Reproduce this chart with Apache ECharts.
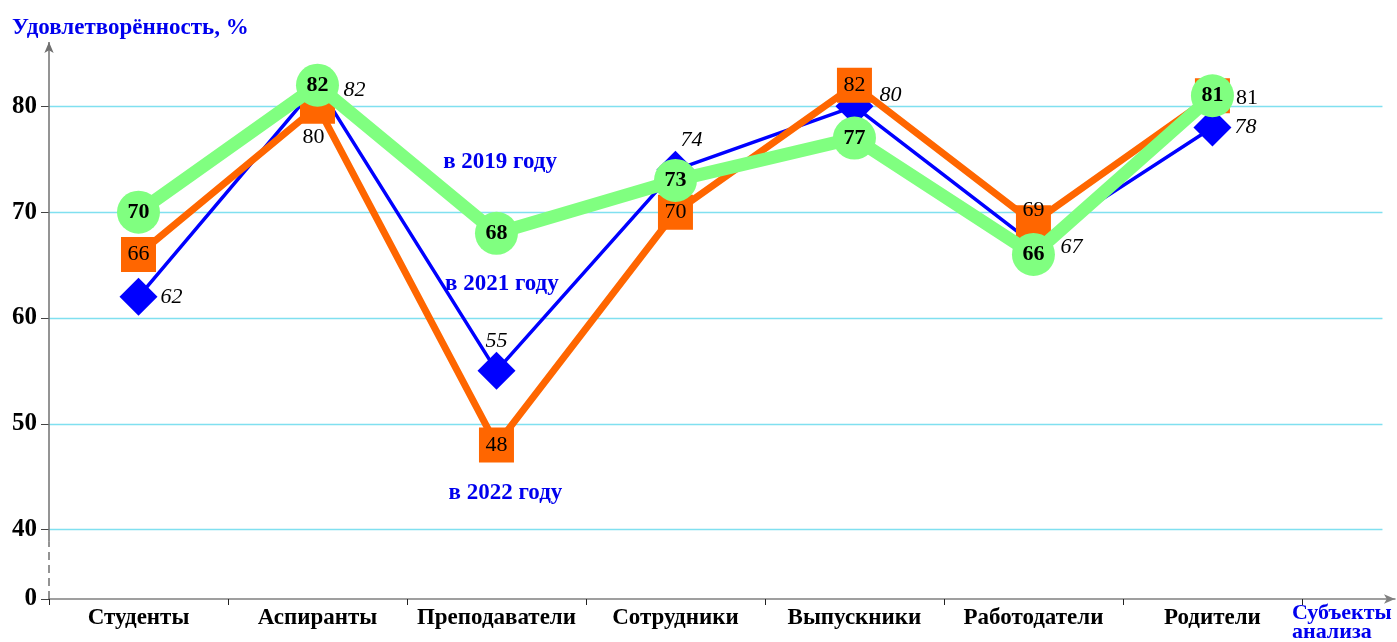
<!DOCTYPE html>
<html>
<head>
<meta charset="utf-8">
<script src="https://cdn.jsdelivr.net/npm/echarts@6/dist/echarts.min.js"></script>
<style>
html, body { margin: 0; padding: 0; background: #fff; }
#chart { width: 1397px; height: 642px; }
</style>
</head>
<body>
<div id="chart"></div>
<script>
var categories = ['Студенты', 'Аспиранты', 'Преподаватели', 'Сотрудники', 'Выпускники', 'Работодатели', 'Родители'];
var year2021 = [62, 82, 55, 74, 80, 67, 78];   // синие ромбы
var year2022 = [66, 80, 48, 70, 82, 69, 81];   // оранжевые квадраты
var year2019 = [70, 82, 68, 73, 77, 66, 81];   // зелёные круги
var yTicks = [40, 50, 60, 70, 80];
var names = ['в 2021 году', 'в 2022 году', 'в 2019 году'];

// axis is broken: bottom of the plot stands for "0"
var Y_MIN = 33.44, Y_MAX = 86.08;
var X_MIN = -0.5, X_MAX = 7.02;
var serif = 'Liberation Serif';
var blueText = '#0000ee';

function points(arr, fix) {
    return arr.map(function (v, i) {
        var item = {value: [i, v]};
        if (fix[i]) item.label = fix[i];
        return item;
    });
}

function note(name, x, y) {
    return {
        symbol: 'rect', symbolSize: 1, silent: true,
        itemStyle: {color: 'rgba(0,0,0,0)'},
        label: {
            show: true, position: 'inside', formatter: name,
            color: blueText, fontFamily: serif, fontWeight: 'bold', fontSize: 23
        },
        data: [{coord: [x, y]}]
    };
}

var chart = echarts.init(document.getElementById('chart'));

var option = {
    animation: false,
    title: {
        text: 'Удовлетворённость, %',
        left: 7, top: 12,
        textStyle: {color: blueText, fontFamily: serif, fontWeight: 'bold', fontSize: 23}
    },
    grid: {left: 49, right: 2, top: 42, bottom: 43, outerBoundsMode: 'none'},
    xAxis: {
        type: 'value', min: X_MIN, max: X_MAX,
        splitLine: {show: false},
        axisLine: {
            onZero: false,
            lineStyle: {color: '#808080', width: 1.5},
            symbol: ['none', 'arrow'], symbolSize: [7, 11]
        },
        axisTick: {
            customValues: [-0.5, 0.5, 1.5, 2.5, 3.5, 4.5, 5.5, 6.5],
            length: 6, lineStyle: {color: '#222', width: 1}
        },
        axisLabel: {
            customValues: [0, 1, 2, 3, 4, 5, 6],
            formatter: function (v) { return categories[Math.round(v)]; },
            color: '#000', fontFamily: serif, fontWeight: 'bold', fontSize: 23, margin: 8
        },
        name: 'Субъекты\nанализа',
        nameLocation: 'end', nameGap: -103,
        nameTextStyle: {
            color: blueText, fontFamily: serif, fontWeight: 'bold', fontSize: 22,
            align: 'left', verticalAlign: 'top', lineHeight: 19, padding: [5, 0, 0, 0]
        }
    },
    yAxis: {
        type: 'value', min: Y_MIN, max: Y_MAX,
        splitLine: {show: false},
        axisLine: {show: false, onZero: false},
        axisTick: {
            customValues: [Y_MIN].concat(yTicks),
            length: 8, lineStyle: {color: '#444', width: 1}
        },
        axisLabel: {
            customValues: [Y_MIN].concat(yTicks),
            formatter: function (v) { return v < 40 ? '0' : String(v); },
            color: '#000', fontFamily: serif, fontWeight: 'bold', fontSize: 25, margin: 12
        }
    },
    series: [
        {
            name: names[0], type: 'line', z: 2, clip: false,
            symbol: 'diamond', symbolSize: 38,
            lineStyle: {color: '#0000ff', width: 3.5},
            itemStyle: {color: '#0000ff'},
            label: {
                show: true, position: 'right', distance: 3,
                formatter: function (p) { return p.value[1]; },
                color: '#000', fontFamily: serif, fontStyle: 'italic', fontSize: 22
            },
            data: points(year2021, {
                1: {distance: 7, offset: [0, 5]},
                2: {position: 'top', distance: 0},
                3: {position: 'top', distance: 0, offset: [16, 0]},
                4: {distance: 6, offset: [0, -11]},
                5: {distance: 6, offset: [2, 3]}
            }),
            markLine: {
                silent: true, z: 1, symbol: 'none', animation: false,
                label: {show: false},
                emphasis: {disabled: true},
                lineStyle: {color: '#80e0f0', width: 1.3, type: 'solid'},
                data: yTicks.map(function (v) {
                    return [{coord: [X_MIN, v]}, {coord: [6.95, v]}];
                }).concat([
                    [
                        {coord: [X_MIN, Y_MIN], lineStyle: {color: '#707070', width: 1.5, type: [8, 5]}},
                        {coord: [X_MIN, 38.9], lineStyle: {color: '#707070', width: 1.5, type: [8, 5]}}
                    ],
                    [
                        {coord: [X_MIN, 38.9], lineStyle: {color: '#707070', width: 1.5, type: 'solid'}},
                        {coord: [X_MIN, Y_MAX], symbol: 'arrow', symbolSize: [7, 11],
                         lineStyle: {color: '#707070', width: 1.5, type: 'solid'}}
                    ]
                ])
            },
            markPoint: note(names[0], 2.03, 63.2)
        },
        {
            name: names[1], type: 'line', z: 3, clip: false,
            symbol: 'rect', symbolSize: 35,
            lineStyle: {color: '#ff6600', width: 7},
            itemStyle: {color: '#ff6600'},
            label: {
                show: true, position: 'inside',
                formatter: function (p) { return p.value[1]; },
                color: '#000', fontFamily: serif, fontSize: 22
            },
            data: points(year2022, {
                1: {position: 'bottom', distance: 2, offset: [-4, 0]},
                5: {offset: [0, -13]},
                6: {position: 'right', distance: 6, offset: [0, 2]}
            }),
            markPoint: note(names[1], 2.05, 43.43)
        },
        {
            name: names[2], type: 'line', z: 4, clip: false,
            symbol: 'circle', symbolSize: 43,
            lineStyle: {color: '#80ff80', width: 13},
            itemStyle: {color: '#80ff80'},
            label: {
                show: true, position: 'inside',
                formatter: function (p) { return p.value[1]; },
                color: '#000', fontFamily: serif, fontWeight: 'bold', fontSize: 22
            },
            data: points(year2019, {}),
            markPoint: note(names[2], 2.02, 74.76)
        }
    ]
};

chart.setOption(option);
</script>
</body>
</html>
